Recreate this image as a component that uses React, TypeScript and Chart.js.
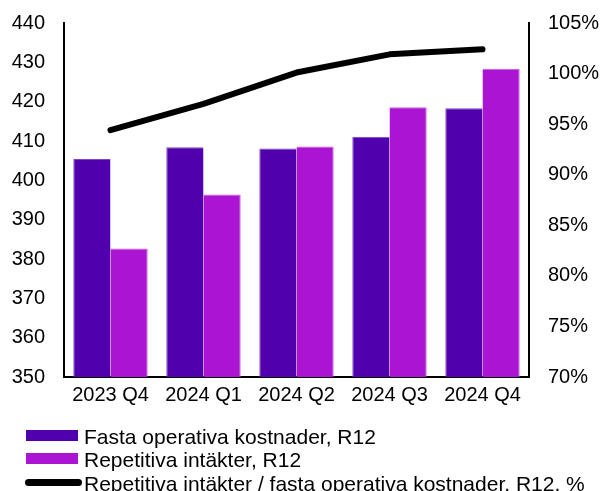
import React, { useEffect, useRef } from "react";
import { Chart, registerables } from "chart.js";

Chart.register(...registerables);

const categories = ["2023 Q4", "2024 Q1", "2024 Q2", "2024 Q3", "2024 Q4"];
const fastaKostnader = [405.4, 408.4, 408.1, 411.1, 418.3];
const repetitivaIntakter = [382.7, 396.4, 408.6, 418.6, 428.4];
const ratioPct = [94.4, 97.0, 100.1, 101.9, 102.4];

const leftTicks = { min: 350, max: 440, step: 10 };
const rightTicks = { min: 70, max: 105, step: 5 };

const labels = {
  fasta: "Fasta operativa kostnader, R12",
  rep: "Repetitiva intäkter, R12",
  ratio: "Repetitiva intäkter / fasta operativa kostnader, R12, %",
};

const FONT = "'Liberation Sans', Arial, sans-serif";
const DARK = "#5000AC";
const DARK_EDGE = "#7A44C4";
const MAGENTA = "#AA14D2";
const MAGENTA_EDGE = "#C45EE0";

const legendPlugin = {
  id: "customLegend",
  afterDraw(chart: any) {
    const ctx = chart.ctx as CanvasRenderingContext2D;
    const rows = [435.5, 458.5, 482.5];
    ctx.save();
    ctx.font = `21px ${FONT}`;
    ctx.textBaseline = "alphabetic";
    ctx.textAlign = "left";
    chart.data.datasets.forEach((ds: any, i: number) => {
      const y = rows[i];
      if (ds.type === "line") {
        ctx.strokeStyle = ds.borderColor;
        ctx.lineWidth = 7;
        ctx.lineCap = "round";
        ctx.beginPath();
        ctx.moveTo(28.5, y);
        ctx.lineTo(78.5, y);
        ctx.stroke();
      } else {
        ctx.fillStyle = ds.backgroundColor;
        ctx.fillRect(26, y - 5.5, 52, 11);
      }
      ctx.fillStyle = "#000";
      ctx.fillText(ds.label, 84, y + 8);
    });
    ctx.restore();
  },
};

const fixY = (width: number) => (s: any) => {
  s.width = width;
  s.paddingTop = 0;
  s.paddingBottom = 0;
};

export default function App() {
  const ref = useRef<HTMLCanvasElement | null>(null);
  useEffect(() => {
    if (!ref.current) return;
    const chart = new Chart(ref.current, {
      type: "bar",
      data: {
        labels: categories,
        datasets: [
          {
            type: "bar",
            label: labels.fasta,
            data: fastaKostnader,
            backgroundColor: DARK,
            borderColor: DARK_EDGE,
            borderWidth: { top: 1, left: 1, right: 0, bottom: 0 },
            yAxisID: "y",
            order: 1,
          } as any,
          {
            type: "bar",
            label: labels.rep,
            data: repetitivaIntakter,
            backgroundColor: MAGENTA,
            borderColor: MAGENTA_EDGE,
            borderWidth: { top: 1, left: 0, right: 1, bottom: 0 },
            yAxisID: "y",
            order: 1,
          } as any,
          {
            type: "line",
            label: labels.ratio,
            data: ratioPct,
            borderColor: "#000000",
            backgroundColor: "#000000",
            borderWidth: 6,
            borderCapStyle: "round",
            borderJoinStyle: "round",
            pointRadius: 0,
            tension: 0,
            yAxisID: "y1",
            order: 0,
          } as any,
        ],
      },
      options: {
        responsive: true,
        maintainAspectRatio: false,
        animation: false,
        layout: { padding: { left: 0, right: 0, top: 23, bottom: 84 } },
        datasets: {
          bar: { categoryPercentage: 0.8, barPercentage: 1.0 },
        } as any,
        plugins: {
          legend: { display: false },
          tooltip: { enabled: false },
        },
        scales: {
          x: {
            grid: { display: false, drawTicks: false },
            border: { display: true, color: "#000", width: 2 },
            ticks: { color: "#000", font: { family: FONT, size: 20 }, padding: 6, maxRotation: 0 },
            afterFit: (s: any) => {
              s.height = 30;
              s.paddingLeft = 0;
              s.paddingRight = 0;
            },
          },
          y: {
            position: "left",
            min: leftTicks.min,
            max: leftTicks.max,
            grid: { display: false, drawTicks: false },
            border: { display: true, color: "#000", width: 2 },
            ticks: {
              stepSize: leftTicks.step,
              color: "#000",
              font: { family: FONT, size: 20 },
              padding: 19,
            },
            afterFit: fixY(64),
          },
          y1: {
            position: "right",
            min: rightTicks.min,
            max: rightTicks.max,
            grid: { display: false, drawTicks: false },
            border: { display: true, color: "#000", width: 2 },
            ticks: {
              stepSize: rightTicks.step,
              color: "#000",
              font: { family: FONT, size: 20 },
              padding: 19,
              callback: (v: any) => `${v}%`,
            },
            afterFit: fixY(74),
          },
        },
      },
      plugins: [legendPlugin],
    });
    return () => chart.destroy();
  }, []);
  return (
    <div style={{ position: "absolute", left: 0, top: 0, width: 603, height: 491 }}>
      <canvas ref={ref} />
    </div>
  );
}
